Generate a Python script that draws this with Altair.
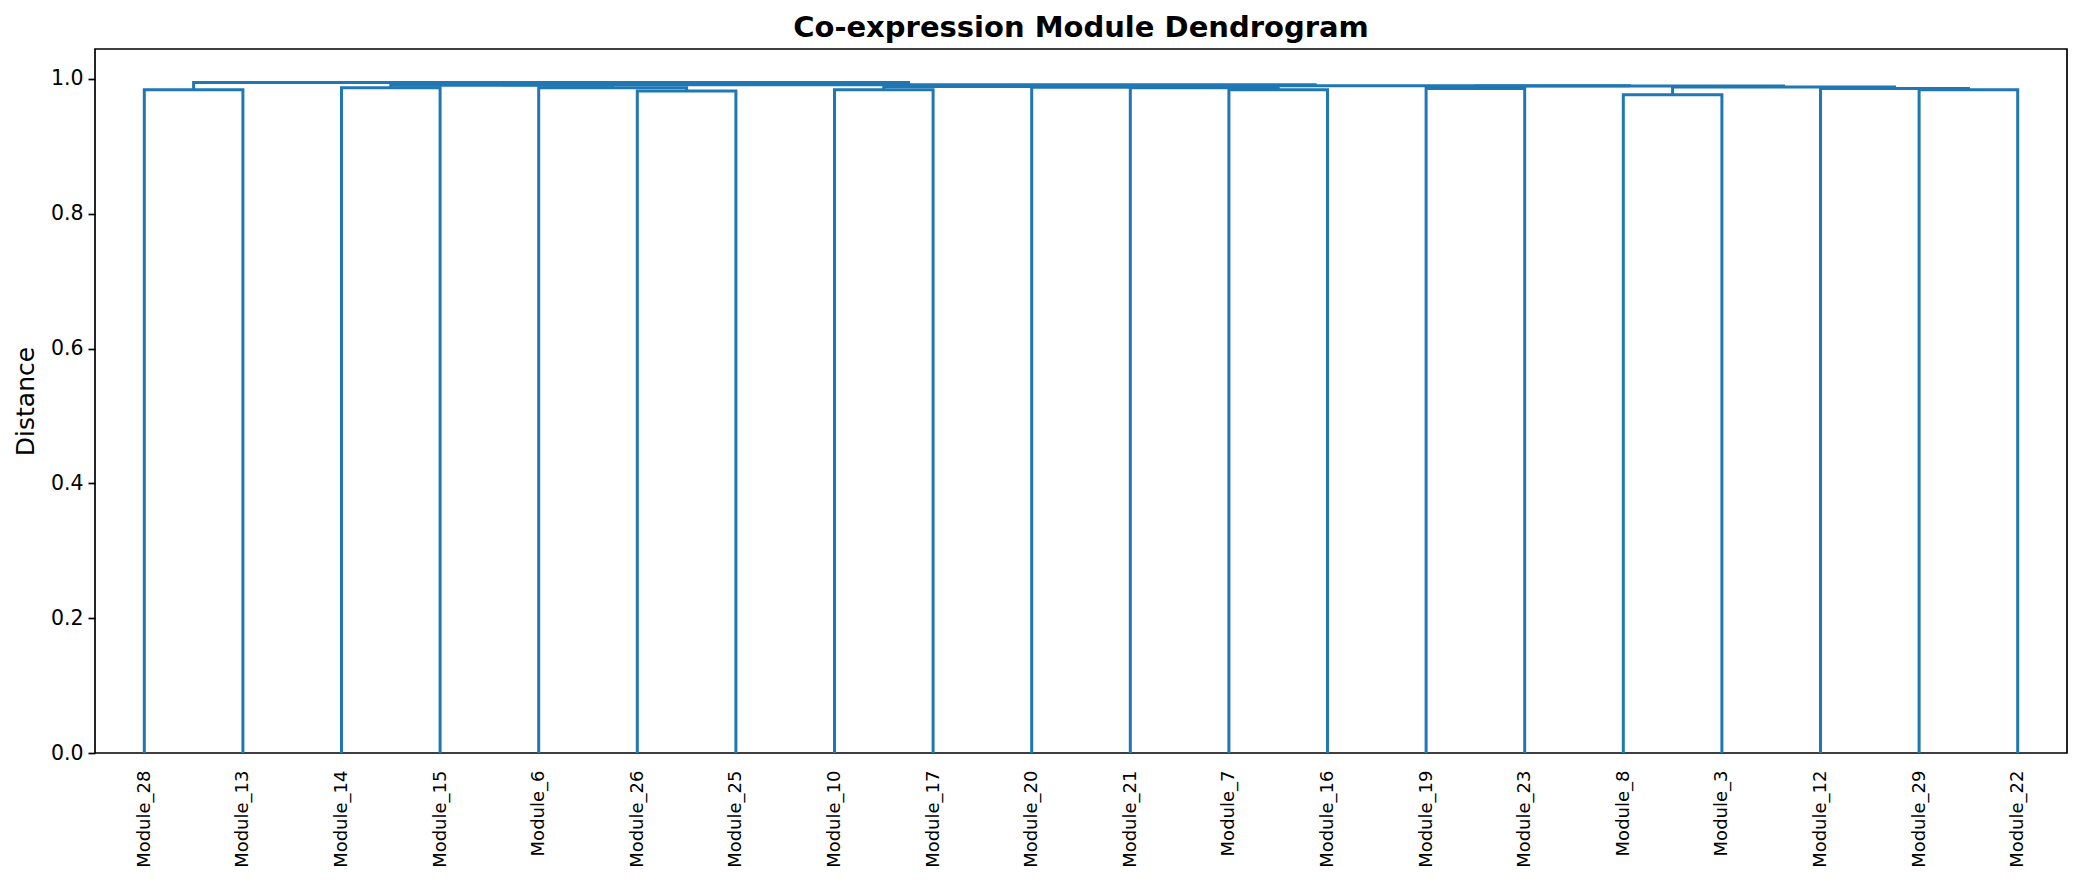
import json
import pandas as pd
import altair as alt

# leaf order as drawn, left to right
leaves = ["Module_28", "Module_13", "Module_14", "Module_15", "Module_6",
          "Module_26", "Module_25", "Module_10", "Module_17", "Module_20",
          "Module_21", "Module_7", "Module_16", "Module_19", "Module_23",
          "Module_8", "Module_3", "Module_12", "Module_29", "Module_22"]

# linkage, scipy style: node 20 + k joins merge_left[k] and merge_right[k]
merge_left = [0, 2, 5, 4, 21, 7, 11, 10, 9, 25, 13, 15, 18, 17, 31, 30, 29, 24, 20]
merge_right = [1, 3, 6, 22, 23, 8, 12, 26, 27, 28, 14, 16, 19, 32, 33, 34, 35, 36, 37]
merge_height = [0.9838, 0.9867, 0.9820, 0.9870, 0.9905, 0.9838, 0.9840, 0.9870,
                0.9877, 0.9887, 0.9857, 0.9764, 0.9838, 0.9858, 0.9880, 0.9893,
                0.9900, 0.9912, 0.9946]

y_ticks = [0.0, 0.2, 0.4, 0.6, 0.8, 1.0]

n = len(leaves)
pos = {i: 5 + 10 * i for i in range(n)}
hgt = {i: 0.0 for i in range(n)}
rows = []
for k, (a, b, h) in enumerate(zip(merge_left, merge_right, merge_height)):
    pts = [(pos[a], hgt[a]), (pos[a], h), (pos[b], h), (pos[b], hgt[b])]
    for step, (px, py) in enumerate(pts):
        rows.append({"link": k, "step": step, "x": px, "y": py})
    pos[n + k] = (pos[a] + pos[b]) / 2
    hgt[n + k] = h
df = pd.DataFrame(rows)

label_expr = json.dumps(leaves) + "[round((datum.value - 5) / 10)]"

chart = alt.Chart(df).mark_line(
    color="#1f77b4", strokeWidth=3, strokeJoin="miter", strokeCap="butt"
).encode(
    x=alt.X("x:Q", scale=alt.Scale(domain=[0, 10 * n], nice=False, zero=False),
            axis=alt.Axis(values=[5 + 10 * i for i in range(n)], labelExpr=label_expr,
                          labelAngle=270, tickSize=0, labelPadding=17, labelFontSize=18,
                          domain=False, grid=False, title=None)),
    y=alt.Y("y:Q", scale=alt.Scale(domain=[0, 1.05 * max(merge_height)], nice=False),
            axis=alt.Axis(values=y_ticks, format=".1f", tickSize=7, tickWidth=1.7,
                          tickColor="black", labelFontSize=20.5, labelPadding=5,
                          title="Distance", titleFontSize=25, titleFontWeight="normal",
                          titlePadding=12, domain=False, grid=False)),
    detail="link:N",
    order="step:O",
).properties(
    width=1972, height=704,
    padding={"left": 87, "top": 41, "right": 7, "bottom": 124},
    autosize=alt.AutoSizeParams(type="none"),
    title=alt.TitleParams("Co-expression Module Dendrogram", fontSize=29, fontWeight="bold",
                          font="DejaVu Sans", offset=6, anchor="middle", color="black"),
).configure_axis(
    labelFont="DejaVu Sans", titleFont="DejaVu Sans", labelColor="black", titleColor="black"
).configure_view(
    stroke="black", strokeWidth=1.7
)

chart.save("out.html", embed_options={"renderer": "svg", "actions": False})
